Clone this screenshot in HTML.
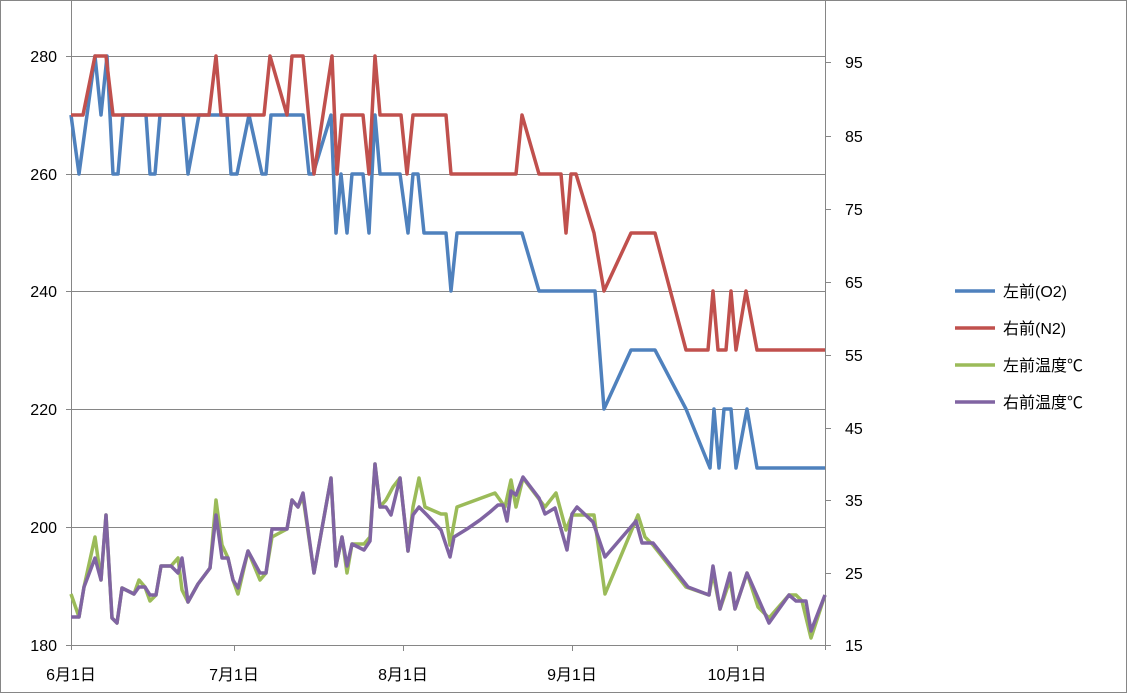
<!DOCTYPE html>
<html><head><meta charset="utf-8"><style>
body{margin:0;background:#fff}
svg{display:block}
text{font-family:"Liberation Sans","Noto Sans CJK JP",sans-serif;font-size:16px;fill:#000}
</style></head><body>
<svg width="1127" height="693" viewBox="0 0 1127 693">
<rect x="0.5" y="0.5" width="1126" height="692" fill="#fff" stroke="#868686"/>
<g stroke="#868686" stroke-width="1">
<line x1="71" y1="56.5" x2="825" y2="56.5"/>
<line x1="71" y1="174.5" x2="825" y2="174.5"/>
<line x1="71" y1="291.5" x2="825" y2="291.5"/>
<line x1="71" y1="409.5" x2="825" y2="409.5"/>
<line x1="71" y1="527.5" x2="825" y2="527.5"/>
<line x1="71" y1="645.5" x2="825" y2="645.5"/>
<line x1="71.5" y1="0" x2="71.5" y2="650"/>
<line x1="825.5" y1="0" x2="825.5" y2="650"/>
<line x1="66" y1="56.5" x2="71" y2="56.5"/><line x1="66" y1="174.5" x2="71" y2="174.5"/><line x1="66" y1="291.5" x2="71" y2="291.5"/><line x1="66" y1="409.5" x2="71" y2="409.5"/><line x1="66" y1="527.5" x2="71" y2="527.5"/><line x1="66" y1="645.5" x2="71" y2="645.5"/>
<line x1="825" y1="62.5" x2="831" y2="62.5"/><line x1="825" y1="136.5" x2="831" y2="136.5"/><line x1="825" y1="209.5" x2="831" y2="209.5"/><line x1="825" y1="282.5" x2="831" y2="282.5"/><line x1="825" y1="355.5" x2="831" y2="355.5"/><line x1="825" y1="428.5" x2="831" y2="428.5"/><line x1="825" y1="500.5" x2="831" y2="500.5"/><line x1="825" y1="573.5" x2="831" y2="573.5"/><line x1="825" y1="645.5" x2="831" y2="645.5"/>
<line x1="234.5" y1="645" x2="234.5" y2="651"/><line x1="403.5" y1="645" x2="403.5" y2="651"/><line x1="572.5" y1="645" x2="572.5" y2="651"/><line x1="737.5" y1="645" x2="737.5" y2="651"/>
</g>
<g text-anchor="end">
<text x="57" y="62">280</text><text x="57" y="180">260</text><text x="57" y="297">240</text><text x="57" y="415">220</text><text x="57" y="533">200</text><text x="57" y="651">180</text>
</g>
<g>
<text x="845" y="68">95</text><text x="845" y="142">85</text><text x="845" y="215">75</text><text x="845" y="288">65</text><text x="845" y="361">55</text><text x="845" y="434">45</text><text x="845" y="506">35</text><text x="845" y="579">25</text><text x="845" y="651">15</text>
</g>
<g text-anchor="middle">
<text x="71" y="680">6月1日</text><text x="234" y="680">7月1日</text><text x="403" y="680">8月1日</text><text x="572" y="680">9月1日</text><text x="737" y="680">10月1日</text>
</g>
<g fill="none" stroke-width="3.5" stroke-linejoin="round">
<polyline stroke="#9bbb59" points="71,594 79,617 84,587 95,537 101,580 106,515 112,618 117,623 122,588 134,594 139,580 145,587 150,601 156,595 161,566 171,566 178,558 182,590 188,602 198,584 210,568 216,500 222,545 228,558 233,580 238,594 248,551 260,580 266,573 272,537 287,529 292,500 298,507 303,497 314,573 331,478 336,566 342,537 347,573 352,544 364,544 370,537 375,464 380,507 386,500 393,487 400,478 408,551 413,507 419,478 425,507 441,514 446,514 450,545 457,507 495,493 505,507 511,480 516,507 523,478 545,507 556,493 566,530 572,515 577,515 594,515 605,594 638,515 645,537 653,545 686,587 709,595 713,573 720,609 730,580 735,609 747,573 758,607 769,618 789,595 796,595 802,601 811,638 825,595"/>
<polyline stroke="#8064a2" points="71,617 79,617 84,587 95,558 101,580 106,515 112,618 117,623 122,588 134,594 139,587 145,587 150,595 156,595 161,566 171,566 178,573 182,558 188,602 198,584 210,568 216,515 222,558 228,558 233,580 238,588 248,551 260,573 266,573 272,529 287,529 292,500 298,507 303,493 314,573 331,478 336,566 342,537 347,566 352,544 364,550 370,541 375,464 380,507 386,507 391,515 400,478 408,551 413,515 419,507 427,515 441,530 450,557 454,537 467,529 480,520 490,512 498,505 503,505 507,521 511,491 516,495 523,477 539,498 545,514 555,508 567,550 572,514 577,507 593,522 605,557 636,521 642,543 653,543 688,587 709,595 713,566 720,609 730,573 735,609 747,573 769,623 789,595 796,601 806,601 811,631 825,595"/>
<polyline stroke="#4f81bd" points="71,115 79,174 87,115 95,56 101,115 107,56 113,174 118,174 123,115 146,115 150,174 155,174 160,115 183,115 188,174 199,115 227,115 231,174 237,174 249,115 262,174 266,174 271,115 303,115 309,174 313,174 331,115 336,233 341,174 347,233 352,174 363,174 369,233 375,115 380,174 400,174 408,233 413,174 418,174 424,233 446,233 451,291 457,233 522,233 539,291 595,291 604,409 631,350 655,350 686,409 710,468 714,409 719,468 724,409 731,409 736,468 747,409 757,468 825,468"/>
<polyline stroke="#c0504d" points="71,115 83,115 95,56 106,56 113,115 209,115 216,56 221,115 264,115 270,56 287,115 292,56 303,56 314,174 332,56 337,174 342,115 363,115 369,174 375,56 380,115 401,115 407,174 413,115 446,115 451,174 516,174 522,115 539,174 561,174 566,233 571,174 576,174 594,233 604,291 631,233 655,233 686,350 708,350 713,291 718,350 726,350 731,291 736,350 746,291 757,350 825,350"/>
</g>
<g stroke-width="3.5">
<line x1="955" y1="291" x2="995" y2="291" stroke="#4f81bd"/>
<line x1="955" y1="328" x2="995" y2="328" stroke="#c0504d"/>
<line x1="955" y1="365" x2="995" y2="365" stroke="#9bbb59"/>
<line x1="955" y1="402" x2="995" y2="402" stroke="#8064a2"/>
</g>
<g>
<text x="1003" y="297">左前(O2)</text>
<text x="1003" y="334">右前(N2)</text>
<text x="1003" y="371">左前温度℃</text>
<text x="1003" y="408">右前温度℃</text>
</g>
</svg>
</body></html>
